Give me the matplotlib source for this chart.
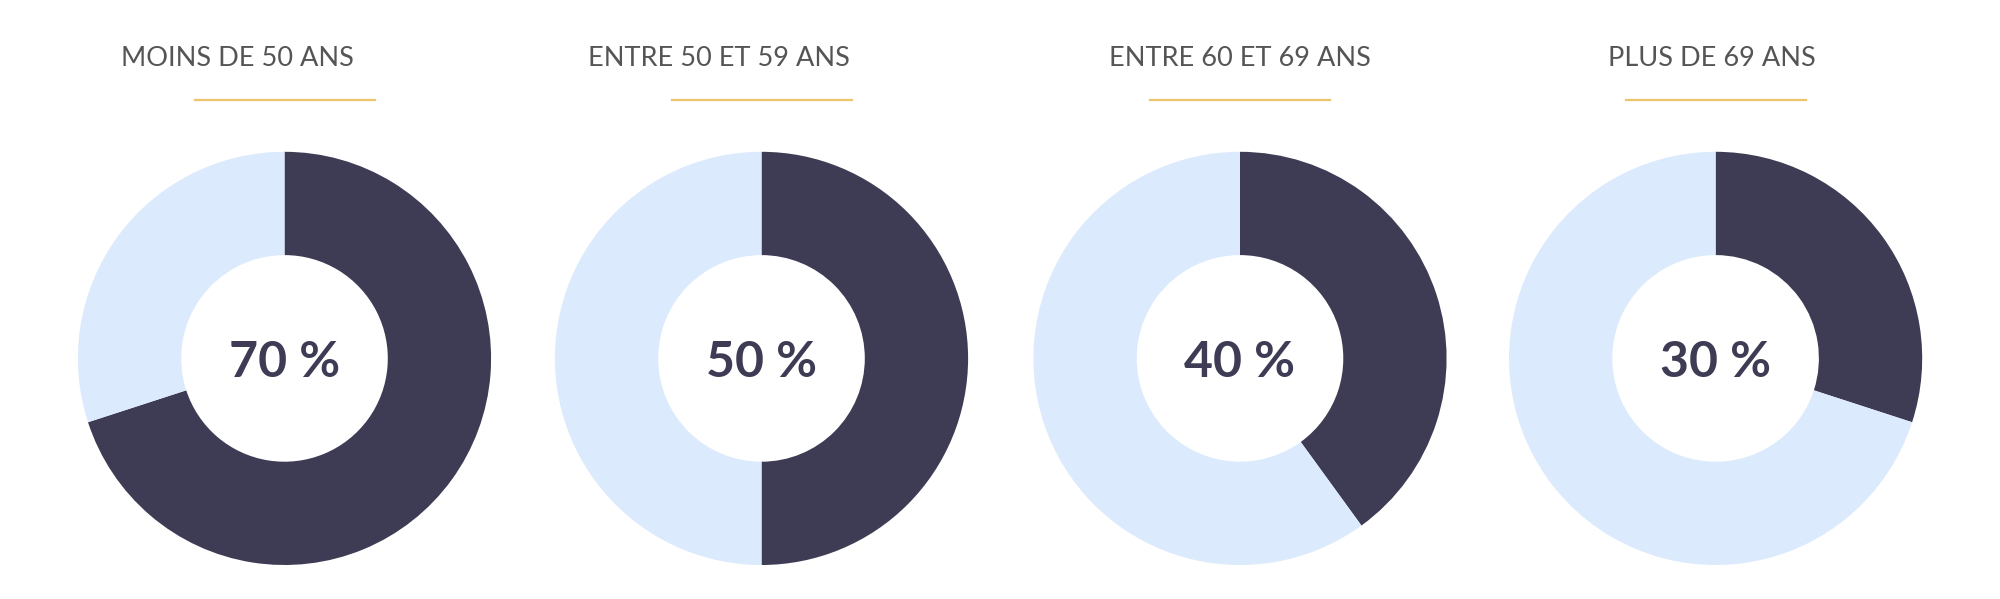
import numpy as np
import matplotlib.pyplot as plt
from matplotlib.lines import Line2D

# Données
groupes = ['MOINS DE 50 ANS', 'ENTRE 50 ET 59 ANS', 'ENTRE 60 ET 69 ANS', 'PLUS DE 69 ANS']
pourcentages = [70, 50, 40, 30]

# Mise en page (pixels de la figure 2000x599)
W, H = 2000, 599
centres_x = [284.5, 761.5, 1240, 1715.6]
titres_x = [237, 719, 1240, 1712]
cy = 358.4
R = 206.6

fonce = '#3e3c54'
clair = '#dbeafc'
or_ = '#eec46c'

fig = plt.figure(figsize=(W / 100, H / 100), dpi=100)
fig.patch.set_facecolor('white')

for g, p, cx, tx in zip(groupes, pourcentages, centres_x, titres_x):
    ax = fig.add_axes([(cx - R) / W, (H - cy - R) / H, 2 * R / W, 2 * R / H])
    ax.pie([p, 100 - p], colors=[fonce, clair], startangle=90, counterclock=False,
           radius=1, wedgeprops=dict(width=0.5, edgecolor='none'))
    ax.set_xlim(-1, 1)
    ax.set_ylim(-1, 1)
    ax.set_aspect('equal')
    ax.axis('off')
    ax.text(0, -0.02, f'{p} %', ha='center', va='center', fontsize=36,
            fontweight='bold', color=fonce, family='Lato')

    fig.text(tx / W, 1 - 58 / H, g, ha='center', va='center', fontsize=19.5,
             color='#555555', family='Lato')
    fig.add_artist(Line2D([(cx - 90) / W, (cx + 90) / W], [1 - 100 / H, 1 - 100 / H],
                          color=or_, lw=1.6, transform=fig.transFigure))

fig.savefig('out.png', dpi=100)
